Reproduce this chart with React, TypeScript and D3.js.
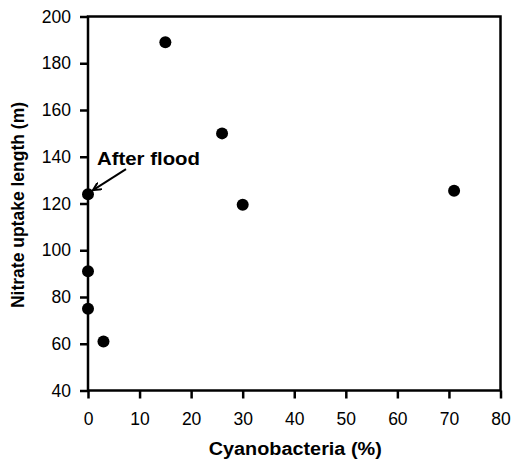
import { useEffect, useRef } from 'react';
import * as d3 from 'd3';

// cyanobacteria (%) vs nitrate uptake length (m)
const cyanoPct = [15, 26, 30, 71, 0, 0, 0, 3];
const uptakeLength = [189, 150, 119.5, 125.5, 124, 91, 75, 61];
const xTicks = [0, 10, 20, 30, 40, 50, 60, 70, 80];
const yTicks = [40, 60, 80, 100, 120, 140, 160, 180, 200];
const annotationLabel = 'After flood';
const annotationIndex = 4;

export default function App() {
  const ref = useRef<SVGSVGElement | null>(null);

  useEffect(() => {
    if (!ref.current) return;
    const width = 512;
    const height = 462;
    const margin = { top: 16.5, right: 11.5, bottom: 71.5, left: 88 };
    const font = '"Liberation Sans", Arial, Helvetica, sans-serif';

    const svg = d3.select(ref.current);
    svg.selectAll('*').remove();

    const x = d3.scaleLinear().domain([0, 80]).range([margin.left, width - margin.right]);
    const y = d3.scaleLinear().domain([40, 200]).range([height - margin.bottom, margin.top]);

    // frame
    svg.append('rect')
      .attr('x', x(0)).attr('y', y(200))
      .attr('width', x(80) - x(0)).attr('height', y(40) - y(200))
      .attr('fill', 'none').attr('stroke', '#000').attr('stroke-width', 2.5);

    const xAxis = svg.append('g')
      .attr('transform', `translate(0,${y(40)})`)
      .call(d3.axisBottom(x).tickValues(xTicks).tickSize(8).tickPadding(14).tickFormat(d3.format('d')));
    const yAxis = svg.append('g')
      .attr('transform', `translate(${x(0)},0)`)
      .call(d3.axisLeft(y).tickValues(yTicks).tickSize(8).tickPadding(9).tickFormat(d3.format('d')));

    [xAxis, yAxis].forEach(g => {
      g.select('.domain').remove();
      g.selectAll('.tick line').attr('stroke', '#000').attr('stroke-width', 2.5);
      g.selectAll('.tick text')
        .attr('fill', '#000')
        .style('font-family', font)
        .style('font-size', '17.5px');
    });

    // points
    svg.append('g')
      .selectAll('circle')
      .data(cyanoPct.map((c, i) => ({ c, v: uptakeLength[i] })))
      .enter()
      .append('circle')
      .attr('cx', d => x(d.c))
      .attr('cy', d => y(d.v))
      .attr('r', 6)
      .attr('fill', '#000');

    // annotation
    const px = x(cyanoPct[annotationIndex]);
    const py = y(uptakeLength[annotationIndex]);
    svg.append('defs').append('marker')
      .attr('id', 'arrow')
      .attr('viewBox', '0 0 10 10')
      .attr('refX', 9).attr('refY', 5)
      .attr('markerWidth', 9).attr('markerHeight', 9)
      .attr('markerUnits', 'userSpaceOnUse')
      .attr('orient', 'auto')
      .append('path')
      .attr('d', 'M0,0.5 L9,5 L0,9.5')
      .attr('fill', 'none').attr('stroke', '#000').attr('stroke-width', 2.2);
    svg.append('line')
      .attr('x1', px + 38).attr('y1', py - 25)
      .attr('x2', px + 5).attr('y2', py - 4)
      .attr('stroke', '#000').attr('stroke-width', 2)
      .attr('marker-end', 'url(#arrow)');
    svg.append('text')
      .attr('x', px + 9).attr('y', py - 29)
      .attr('textLength', 103).attr('lengthAdjust', 'spacingAndGlyphs')
      .style('font-family', font).style('font-size', '18.5px').style('font-weight', 'bold')
      .text(annotationLabel);

    // axis titles
    svg.append('text')
      .attr('x', (x(0) + x(80)) / 2 + 1).attr('y', 455)
      .attr('text-anchor', 'middle')
      .attr('textLength', 173).attr('lengthAdjust', 'spacingAndGlyphs')
      .style('font-family', font).style('font-size', '18px').style('font-weight', 'bold')
      .text('Cyanobacteria (%)');
    svg.append('text')
      .attr('transform', `translate(24,${(y(40) + y(200)) / 2 + 1.5}) rotate(-90)`)
      .attr('text-anchor', 'middle')
      .style('font-family', font).style('font-size', '17.5px').style('font-weight', 'bold')
      .text('Nitrate uptake length (m)');
  }, []);

  return (
    <div style={{ position: 'absolute', left: 0, top: 0 }}>
      <svg ref={ref} width={512} height={462} style={{ display: 'block', background: '#fff' }} />
    </div>
  );
}
